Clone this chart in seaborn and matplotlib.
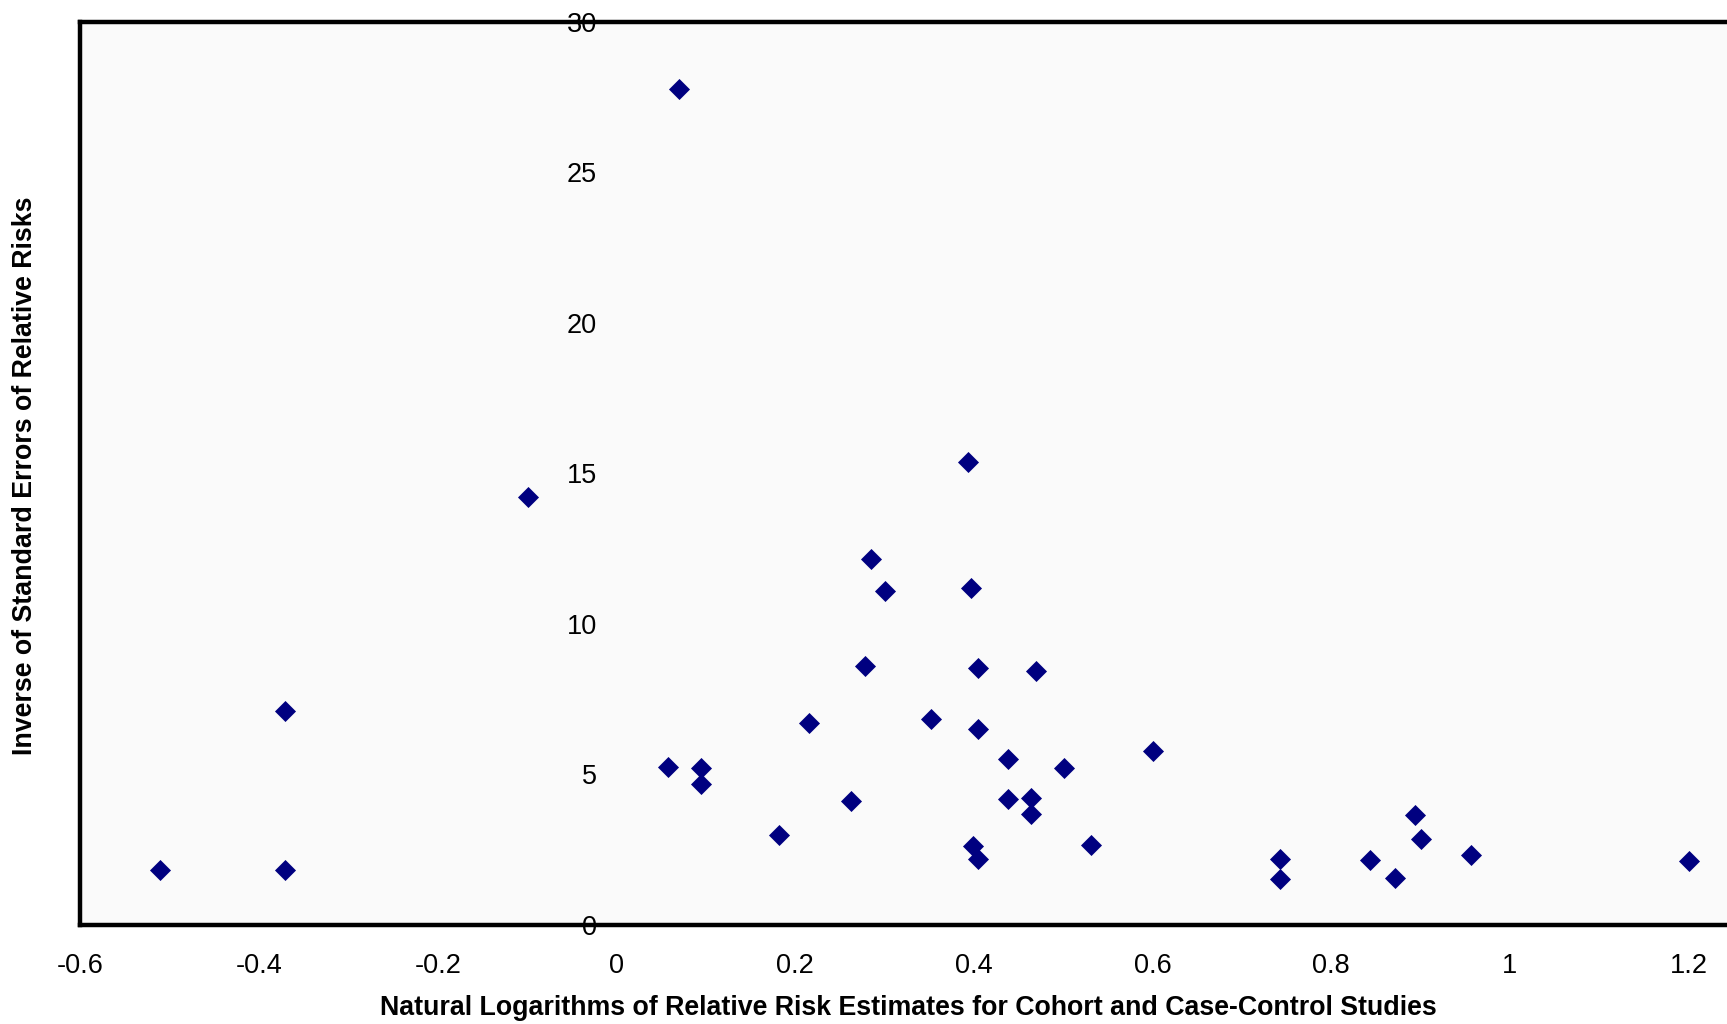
import matplotlib
matplotlib.use("Agg")
import matplotlib.pyplot as plt
import seaborn as sns
import pandas as pd

log_rr = [-0.511, -0.371, -0.371, -0.099, 0.070, 0.058, 0.095, 0.095, 0.182, 0.215,
          0.262, 0.278, 0.285, 0.300, 0.352, 0.393, 0.397, 0.405, 0.405, 0.399,
          0.405, 0.438, 0.438, 0.464, 0.464, 0.470, 0.501, 0.531, 0.600, 0.743,
          0.743, 0.843, 0.871, 0.894, 0.900, 0.957, 1.201]
inv_se = [1.83, 1.83, 7.10, 14.23, 27.77, 5.23, 5.20, 4.68, 3.00, 6.70,
          4.10, 8.60, 12.15, 11.09, 6.84, 15.37, 11.20, 8.53, 6.51, 2.63,
          2.20, 5.52, 4.17, 4.21, 3.70, 8.45, 5.20, 2.67, 5.78, 2.20,
          1.54, 2.16, 1.57, 3.66, 2.85, 2.31, 2.12]
x_ticks = [-0.6, -0.4, -0.2, 0, 0.2, 0.4, 0.6, 0.8, 1, 1.2]
x_tick_labels = ["-0.6", "-0.4", "-0.2", "0", "0.2", "0.4", "0.6", "0.8", "1", "1.2"]
y_ticks = [0, 5, 10, 15, 20, 25, 30]
y_tick_labels = ["0", "5", "10", "15", "20", "25", "30"]
x_title = "Natural Logarithms of Relative Risk Estimates for Cohort and Case-Control Studies"
y_title = "Inverse of Standard Errors of Relative Risks"

df = pd.DataFrame({"x": log_rr, "y": inv_se})

sns.set_theme(style="white")
plt.rcParams["font.family"] = ["Liberation Sans", "DejaVu Sans"]
plt.rcParams["text.color"] = "black"
plt.rcParams["xtick.color"] = "black"
plt.rcParams["ytick.color"] = "black"

fig = plt.figure(figsize=(17.27, 10.24), dpi=100)
ax = fig.add_axes([0.0466, 0.0968, 0.9534, 0.8817])
ax.set_facecolor("#fafafa")

sns.scatterplot(data=df, x="x", y="y", ax=ax, marker="D", s=115,
                color="#000080", linewidth=0, zorder=3)

ax.set_xlim(-0.6, 1.243)
ax.set_ylim(0, 30)

# y axis crosses at x = 0 (labels there), frame drawn separately
ax.spines["left"].set_position(("data", 0))
ax.spines["left"].set_color("none")
ax.spines["right"].set_visible(False)
for side in ["top", "bottom"]:
    ax.spines[side].set_color("black")
    ax.spines[side].set_linewidth(3.2)
ax.plot([0, 0], [0, 1], transform=ax.transAxes, color="black", lw=3.2,
        clip_on=False, solid_capstyle="projecting", zorder=4)

ax.set_xticks(x_ticks)
ax.set_xticklabels(x_tick_labels)
ax.set_yticks(y_ticks)
ax.set_yticklabels(y_tick_labels)
ax.tick_params(axis="y", length=0, pad=14, labelsize=19.5, labelcolor="black")
ax.tick_params(axis="x", length=0, pad=20, labelsize=19.5, labelcolor="black")

ax.set_xlabel("")
ax.set_ylabel("")
fig.text(0.526, 0.003, x_title, ha="center", va="bottom", fontsize=19.3,
         fontweight="bold", color="black")
fig.text(0.0145, 0.535, y_title, ha="center", va="center", rotation=90,
         fontsize=19.3, fontweight="bold", color="black")

fig.savefig("out.png", dpi=100)
